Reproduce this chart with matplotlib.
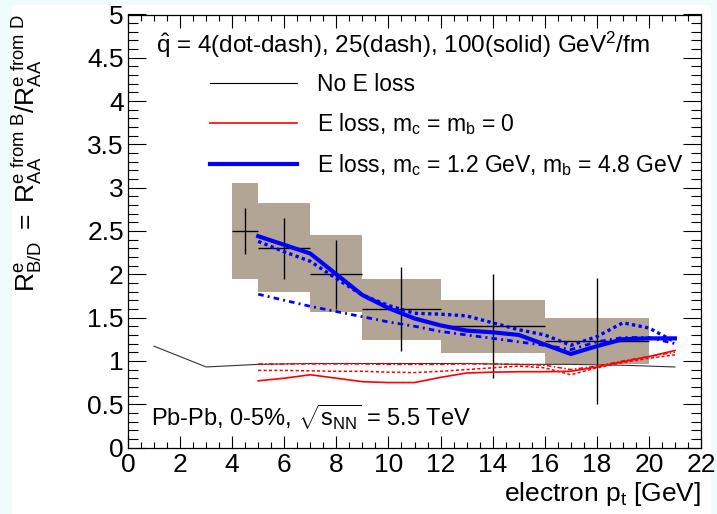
import matplotlib
matplotlib.use("Agg")
import matplotlib.pyplot as plt
import matplotlib.patches as patches
import numpy as np
from matplotlib.lines import Line2D
from matplotlib.ticker import MultipleLocator

plt.rcParams['font.family'] = ['Liberation Sans', 'DejaVu Sans']
plt.rcParams['mathtext.fontset'] = 'custom'
plt.rcParams['mathtext.rm'] = 'Liberation Sans'
plt.rcParams['mathtext.it'] = 'Liberation Sans'
plt.rcParams['mathtext.bf'] = 'Liberation Sans'

# data points (central pt, bin edges, value, stat error, systematic band)
pt_data = [4.5, 6, 8, 10.5, 14, 18]
pt_lo = [4, 5, 7, 9, 12, 16]
pt_hi = [5, 7, 9, 12, 16, 20]
rbd = [2.50, 2.30, 2.00, 1.60, 1.40, 1.23]
stat_err = [0.26, 0.35, 0.40, 0.48, 0.60, 0.73]
sys_lo = [1.95, 1.79, 1.56, 1.24, 1.09, 0.96]
sys_hi = [3.05, 2.82, 2.45, 1.95, 1.70, 1.50]

# no energy loss
pt_noloss = [1, 3, 5, 7, 9, 11, 13, 15, 17, 19, 21]
r_noloss = [1.17, 0.93, 0.96, 0.97, 0.97, 0.97, 0.97, 0.96, 0.96, 0.95, 0.93]

# model curves
pt_model = [5, 6, 7, 8, 9, 10, 11, 12, 13, 14, 15, 16, 17, 18, 19, 20, 21]
blue_q100 = [2.44, 2.34, 2.24, 2.00, 1.76, 1.61, 1.49, 1.41, 1.35, 1.33, 1.30, 1.19, 1.08, 1.17, 1.25, 1.26, 1.26]
blue_q25 = [2.38, 2.26, 2.15, 1.95, 1.76, 1.64, 1.55, 1.54, 1.52, 1.44, 1.36, 1.30, 1.18, 1.28, 1.44, 1.38, 1.22]
blue_q4 = [1.77, 1.70, 1.63, 1.57, 1.51, 1.45, 1.40, 1.34, 1.30, 1.26, 1.22, 1.18, 1.13, 1.22, 1.27, 1.27, 1.20]
red_q100 = [0.77, 0.80, 0.84, 0.80, 0.76, 0.75, 0.75, 0.81, 0.86, 0.87, 0.875, 0.875, 0.88, 0.93, 0.99, 1.05, 1.12]
red_q25 = [0.89, 0.89, 0.885, 0.88, 0.88, 0.87, 0.865, 0.88, 0.90, 0.92, 0.94, 0.92, 0.84, 0.92, 0.98, 1.03, 1.07]
red_q4 = [0.965, 0.965, 0.965, 0.965, 0.965, 0.96, 0.96, 0.96, 0.965, 0.965, 0.96, 0.95, 0.90, 0.94, 1.00, 1.05, 1.10]

fig = plt.figure(figsize=(7.17, 5.14), dpi=100)
fig.patch.set_facecolor('#effcfc')
fig.patches.append(patches.Rectangle((12/717, 0), 699/717, 509/514, transform=fig.transFigure,
                                     facecolor='white', edgecolor='none', zorder=-10))
ax = fig.add_axes([128/717, 66.5/514, 573/717, 433/514])
ax.set_zorder(5)

# systematic boxes
sys_h = np.array(sys_hi) - np.array(sys_lo)
widths = np.array(pt_hi) - np.array(pt_lo)
ax.bar(pt_lo, sys_h, width=widths, bottom=sys_lo, align='edge', color='#b3a596', edgecolor='none', zorder=1)

# stat error bars
xerr = [np.array(pt_data) - np.array(pt_lo), np.array(pt_hi) - np.array(pt_data)]
ax.errorbar(pt_data, rbd, xerr=xerr, yerr=stat_err, fmt='none', ecolor='black', elinewidth=1.0, capsize=0, zorder=2)

ax.plot(pt_noloss, r_noloss, color='#333333', lw=0.8, zorder=3)
ax.plot(pt_model, red_q100, color='red', lw=1.2, zorder=3)
ax.plot(pt_model, red_q25, color='red', lw=1.1, dashes=(2, 1.5), zorder=3)
ax.plot(pt_model, red_q4, color='red', lw=1.1, dashes=(3, 1.5, 1, 1.5), zorder=3)
ax.plot(pt_model, blue_q4, color='blue', lw=2.0, dashes=(2, 1.5, 0.7, 1.5), zorder=4)
ax.plot(pt_model, blue_q25, color='blue', lw=2.4, dashes=(1, 1), zorder=4)
ax.plot(pt_model, blue_q100, color='blue', lw=3.0, zorder=5)

ax.set_xlim(0, 22)
ax.set_ylim(0, 5)
ax.xaxis.set_major_locator(MultipleLocator(2))
ax.xaxis.set_minor_locator(MultipleLocator(0.5))
ax.yaxis.set_major_locator(MultipleLocator(0.5))
ax.yaxis.set_minor_locator(MultipleLocator(0.1))
ax.tick_params(axis='both', which='both', direction='in', top=True, right=True, width=0.8, labelsize=19)
ax.tick_params(axis='y', which='major', length=13, pad=3)
ax.tick_params(axis='y', which='minor', length=7)
ax.tick_params(axis='x', which='major', length=9, pad=4)
ax.tick_params(axis='x', which='minor', length=4.5)
ax.set_yticks([0, 0.5, 1, 1.5, 2, 2.5, 3, 3.5, 4, 4.5, 5])
ax.set_yticklabels(['0', '0.5', '1', '1.5', '2', '2.5', '3', '3.5', '4', '4.5', '5'])
for s in ax.spines.values():
    s.set_linewidth(0.9)

ax.set_xlabel(r'electron p$_\mathrm{t}$ [GeV]', fontsize=19, loc='right', labelpad=2)
ax.set_ylabel(r'$\mathrm{R^{e}_{B/D}\ =\ R^{e\ from\ B}_{AA}/R^{e\ from\ D}_{AA}}$', fontsize=19, loc='top')
ax.yaxis.set_label_coords(-0.147, 1.0)

ax.text(0.048, 0.929, r'$\hat{\mathrm{q}}$ = 4(dot-dash), 25(dash), 100(solid) GeV$^{2}$/fm',
        transform=ax.transAxes, fontsize=17.5, va='center', ha='left')
ax.text(0.04, 0.07, r'Pb-Pb, 0-5%, $\sqrt{\mathrm{s_{NN}}}$ = 5.5 TeV',
        transform=ax.transAxes, fontsize=17, va='center', ha='left')

handles = [Line2D([], [], color='black', lw=0.8),
           Line2D([], [], color='red', lw=1.2),
           Line2D([], [], color='blue', lw=3.0)]
labels = ['No E loss', r'E loss, m$_\mathrm{c}$ = m$_\mathrm{b}$ = 0',
          r'E loss, m$_\mathrm{c}$ = 1.2 GeV, m$_\mathrm{b}$ = 4.8 GeV']
ax.legend(handles, labels, loc='upper left', bbox_to_anchor=(0.143, 0.865), frameon=False,
          fontsize=16.5, handlelength=3.8, handletextpad=0.87, labelspacing=0.65,
          borderpad=0, borderaxespad=0)

fig.savefig('out.png', dpi=100, facecolor=fig.get_facecolor())
